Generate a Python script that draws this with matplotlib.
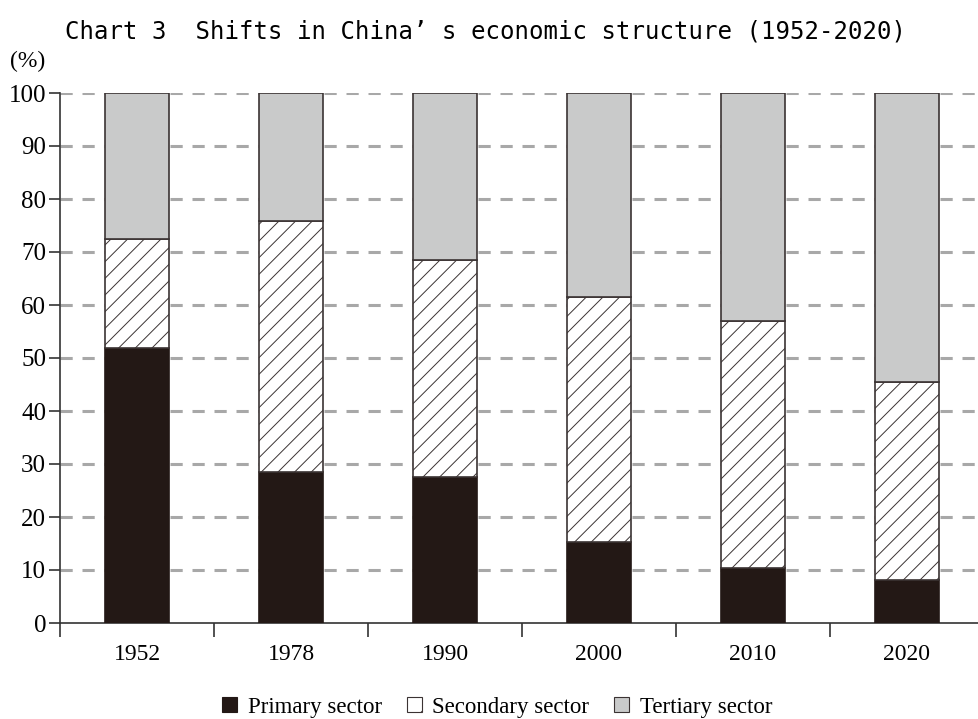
import numpy as np
import matplotlib
matplotlib.use("Agg")
import matplotlib.pyplot as plt
from matplotlib.patches import Patch

# data (cumulative tops converted to shares)
years = ["1952", "1978", "1990", "2000", "2010", "2020"]
primary = [51.8, 28.5, 27.6, 15.2, 10.3, 8.1]
secondary_top = [72.4, 75.9, 68.5, 61.5, 56.9, 45.4]
secondary = [round(t - p, 1) for t, p in zip(secondary_top, primary)]
tertiary = [round(100 - t, 1) for t in secondary_top]

labels = ["Primary sector", "Secondary sector", "Tertiary sector"]
yticks = np.arange(0, 101, 10)

black = "#231815"
grey = "#c9caca"
edge = "#3b3333"

plt.rcParams["hatch.linewidth"] = 0.7
serif = "Liberation Serif"

fig = plt.figure(figsize=(9.79, 7.19), dpi=100)
ax = fig.add_axes([60 / 979, 96 / 719, 924 / 979, 530 / 719])

x = np.arange(len(years))
w = 0.415

ax.bar(x, primary, w, color=black, edgecolor=black, linewidth=1.2, zorder=3)
ax.bar(x, secondary, w, bottom=primary, color="white", edgecolor=edge,
       hatch="//", linewidth=1.2, zorder=3)
ax.bar(x, tertiary, w, bottom=secondary_top, color=grey, edgecolor=edge,
       linewidth=1.2, zorder=3)

for v in yticks[1:]:
    ax.axhline(v, color="#a8a8a8", linewidth=2.2, dashes=(4, 3.2), zorder=1)

ax.set_xlim(-0.5, len(years) - 0.5)
ax.set_ylim(0, 100)

for side in ("top", "right"):
    ax.spines[side].set_visible(False)
for side in ("left", "bottom"):
    ax.spines[side].set_color("#333333")
    ax.spines[side].set_linewidth(1.2)

ax.set_yticks(yticks)
ax.set_yticklabels([str(v) for v in yticks], fontfamily=serif, fontsize=18)
ax.tick_params(axis="y", length=8, width=1.2, color="#333333", pad=2)

ax.set_xticks(x)
ax.set_xticklabels(years, fontfamily=serif, fontsize=17)
ax.tick_params(axis="x", which="major", length=0, pad=15)
ax.set_xticks(np.arange(-0.5, len(years) - 0.5, 1), minor=True)
ax.tick_params(axis="x", which="minor", length=10, width=1.2, color="#333333")

fig.text(65 / 979, 1 - 31 / 719, "Chart 3  Shifts in China’ s economic structure (1952-2020)",
         fontfamily="DejaVu Sans Mono", fontsize=17.3, ha="left", va="center")
fig.text(10 / 979, 1 - 61 / 719, "(%)", fontfamily=serif, fontsize=17,
         ha="left", va="center")

handles = [
    Patch(facecolor=black, edgecolor=black, linewidth=0.8),
    Patch(facecolor="white", edgecolor=edge, hatch="/", linewidth=0.8),
    Patch(facecolor=grey, edgecolor=edge, linewidth=0.8),
]
fig.legend(handles, labels, loc="center", bbox_to_anchor=(0.508, 1 - 707 / 719),
           ncol=3, frameon=False, prop={"family": serif, "size": 16.5},
           handlelength=0.65, handleheight=0.65, handletextpad=0.45,
           columnspacing=1.1)

fig.savefig("out.png", dpi=100)
